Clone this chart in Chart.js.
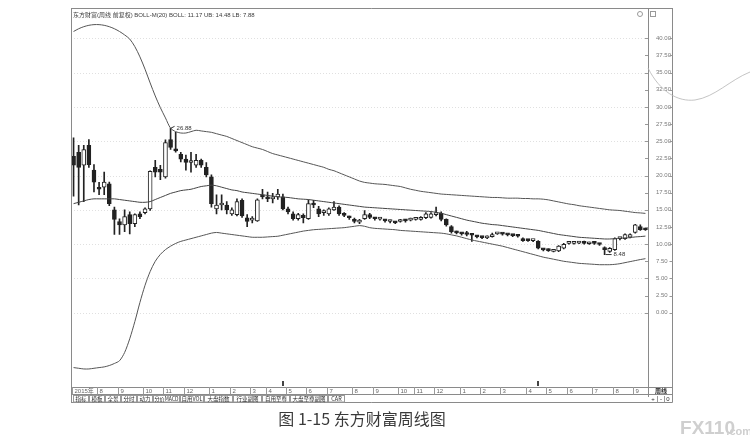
<!DOCTYPE html>
<html>
<head>
<meta charset="utf-8">
<script src="https://cdn.jsdelivr.net/npm/chart.js@4.4.1/dist/chart.umd.min.js"></script>
<style>
  html, body { margin: 0; padding: 0; background: #fff; }
  canvas { display: block; }
</style>
</head>
<body>
<canvas id="kline" width="750" height="445"></canvas>
<script>
// weekly candles (price units)
const openP = [22.8, 23.4, 21.5, 24.4, 20.8, 18.2, 18.3, 18.8, 15.0, 13.3,
  12.8, 14.3, 13.0, 14.4, 14.6, 15.15, 21.2, 20.9, 19.8, 25.25,
  23.8, 23.1, 22.4, 21.9, 21.5, 22.2, 21.2, 19.8, 15.15, 15.7,
  15.7, 14.4, 14.3, 16.4, 13.85, 13.5, 13.4, 17.2, 16.9, 16.6,
  16.9, 16.9, 15.15, 14.4, 13.7, 14.2, 13.7, 15.9, 15.15, 14.6,
  14.4, 15.0, 15.4, 14.3, 13.9, 13.6, 13.2, 13.7, 14.3, 13.75,
  13.65, 13.5, 13.3, 13.2, 13.3, 13.45, 13.5, 13.6, 13.6, 13.85,
  13.9, 14.3, 14.5, 13.6, 12.55, 11.75, 11.6, 11.7, 11.4, 11.15,
  11.0, 10.9, 11.1, 11.5, 11.5, 11.4, 11.3, 11.2, 10.8, 10.55,
  10.5, 10.4, 9.25, 9.2, 8.95, 9.0, 9.4, 10.1, 10.1, 10.15,
  10.4, 10.05, 10.15, 10.0, 9.3, 8.95, 9.2, 10.8, 10.8, 11.0,
  11.7, 12.55, 12.15];
const closeP = [21.5, 21.2, 23.8, 21.6, 19.05, 18.0, 19.05, 15.9, 13.6, 12.8,
  14.0, 13.0, 14.3, 14.0, 15.15, 20.6, 20.5, 20.5, 24.8, 24.1,
  23.6, 22.4, 21.9, 22.0, 22.2, 21.5, 20.1, 15.9, 15.7, 15.8,
  15.0, 15.0, 16.2, 14.1, 13.3, 13.6, 16.45, 16.9, 16.6, 16.7,
  17.3, 15.15, 14.7, 13.7, 14.3, 13.85, 15.9, 15.7, 14.4, 14.7,
  15.15, 15.4, 14.4, 14.2, 13.85, 13.3, 13.4, 14.3, 13.9, 13.7,
  13.75, 13.4, 13.4, 13.1, 13.45, 13.4, 13.6, 13.8, 13.85, 14.4,
  14.4, 14.4, 13.6, 12.8, 11.8, 11.65, 11.5, 11.4, 11.3, 11.05,
  10.95, 11.05, 11.4, 11.55, 11.45, 11.35, 11.25, 11.15, 10.5, 10.5,
  10.55, 9.4, 9.15, 9.05, 9.1, 9.7, 9.96, 10.15, 10.25, 10.3,
  10.1, 10.2, 10.1, 9.95, 9.2, 9.4, 10.8, 10.85, 11.4, 11.4,
  12.8, 12.1, 12.1];
const highP = [25.5, 24.4, 24.4, 25.25, 21.6, 19.0, 20.5, 19.05, 15.4, 13.7,
  15.0, 14.7, 14.4, 14.7, 15.3, 20.7, 22.2, 21.5, 25.2, 26.88,
  26.3, 23.4, 23.0, 23.4, 23.1, 22.4, 21.9, 20.1, 17.2, 17.2,
  16.2, 15.3, 16.6, 16.6, 14.3, 14.0, 16.6, 18.0, 17.6, 17.4,
  18.0, 17.3, 15.4, 14.7, 14.5, 14.4, 16.45, 16.4, 15.5, 15.0,
  15.3, 16.2, 15.6, 14.6, 14.1, 13.8, 13.6, 14.9, 14.5, 13.9,
  13.9, 13.6, 13.5, 13.3, 13.6, 13.6, 13.8, 13.9, 14.0, 14.6,
  14.6, 15.4, 14.7, 13.7, 12.7, 11.9, 11.7, 11.85, 11.5, 11.3,
  11.1, 11.2, 11.6, 11.7, 11.6, 11.5, 11.4, 11.3, 10.9, 10.7,
  10.6, 10.5, 9.35, 9.3, 9.2, 9.8, 10.1, 10.3, 10.35, 10.4,
  10.45, 10.3, 10.25, 10.1, 9.6, 9.5, 10.9, 11.0, 11.5, 11.5,
  12.9, 12.8, 12.3];
const lowP = [17.0, 15.7, 16.2, 21.2, 17.6, 17.2, 17.2, 15.6, 11.4, 11.4,
  11.8, 11.5, 12.55, 13.7, 14.4, 14.9, 19.8, 19.4, 19.6, 23.8,
  23.4, 22.0, 20.8, 20.5, 21.2, 21.2, 19.8, 15.4, 14.4, 15.0,
  14.4, 14.2, 14.1, 13.9, 12.55, 13.1, 13.3, 16.6, 16.2, 16.0,
  16.5, 15.0, 14.4, 13.5, 13.5, 13.1, 13.6, 15.3, 14.0, 14.2,
  14.2, 14.9, 14.2, 14.0, 13.6, 13.1, 13.0, 13.6, 13.7, 13.5,
  13.5, 13.2, 13.1, 13.0, 13.2, 13.2, 13.4, 13.5, 13.5, 13.7,
  13.8, 14.1, 13.4, 12.6, 11.6, 11.5, 11.3, 11.2, 10.4, 10.9,
  10.8, 10.8, 11.0, 11.4, 11.3, 11.2, 11.1, 11.0, 10.4, 10.4,
  10.35, 9.3, 9.0, 8.95, 8.85, 8.9, 9.3, 10.0, 10.0, 10.05,
  10.0, 9.95, 9.95, 9.8, 8.48, 8.8, 9.1, 10.6, 10.7, 10.9,
  11.6, 12.0, 12.0];

// BOLL(20) lines
const bollUp = [41.0, 41.4, 41.7, 41.9, 42.0, 42.0, 41.9, 41.7, 41.4, 41.0,
  40.5, 39.9, 38.8, 37.3, 35.5, 33.5, 31.6, 29.9, 28.4, 26.9,
  26.4, 26.2, 26.2, 26.4, 26.6, 26.5, 26.4, 26.3, 26.1, 25.9,
  25.7, 25.4, 25.1, 24.8, 24.5, 24.2, 24.0, 23.8, 23.5, 23.2,
  23.0, 22.8, 22.6, 22.4, 22.2, 22.0, 21.8, 21.6, 21.4, 21.2,
  20.9, 20.7, 20.4, 20.1, 19.8, 19.5, 19.2, 19.0, 18.9, 18.8,
  18.75, 18.7, 18.6, 18.5, 18.4, 18.2, 18.0, 17.85, 17.7, 17.6,
  17.5, 17.4, 17.3, 17.25, 17.2, 17.15, 17.1, 17.05, 17.0, 16.95,
  16.9, 16.85, 16.8, 16.8, 16.75, 16.7, 16.7, 16.7, 16.65, 16.65,
  16.6, 16.6, 16.55, 16.45, 16.3, 16.15, 16.0, 15.85, 15.75, 15.6,
  15.5, 15.4, 15.3, 15.2, 15.1, 15.0, 14.95, 14.9, 14.8, 14.7,
  14.6, 14.55, 14.48];
const bollMid = [15.9, 16.1, 16.3, 16.5, 16.6, 16.6, 16.6, 16.6, 16.6, 16.5,
  16.4, 16.3, 16.2, 16.1, 16.1, 16.2, 16.5, 16.8, 17.1, 17.4,
  17.6, 17.8, 17.9, 18.0, 18.2, 18.4, 18.5, 18.6, 18.5, 18.3,
  18.1, 17.9, 17.8, 17.6, 17.5, 17.4, 17.3, 17.2, 17.1, 17.0,
  16.9, 16.85, 16.8, 16.7, 16.6, 16.55, 16.5, 16.4, 16.3, 16.2,
  16.1, 16.0, 15.9, 15.8, 15.7, 15.6, 15.5, 15.4, 15.35, 15.3,
  15.25, 15.2, 15.15, 15.1, 15.05, 15.0, 14.95, 14.9, 14.85, 14.8,
  14.75, 14.65, 14.5, 14.3, 14.1, 13.9, 13.7, 13.5, 13.35, 13.2,
  13.05, 12.95, 12.85, 12.8, 12.7, 12.6, 12.5, 12.4, 12.3, 12.2,
  12.1, 12.0, 11.85, 11.7, 11.55, 11.4, 11.3, 11.2, 11.1, 11.0,
  10.95, 10.9, 10.85, 10.8, 10.75, 10.75, 10.8, 10.85, 10.9, 10.95,
  11.05, 11.1, 11.17];
const bollLow = [-8.0, -8.1, -8.2, -8.2, -8.1, -8.0, -7.9, -7.7, -7.4, -7.0,
  -5.8, -3.8, -1.3, 1.5, 4.0, 6.0, 7.5, 8.5, 9.2, 9.7,
  10.1, 10.4, 10.6, 10.8, 11.0, 11.2, 11.4, 11.6, 11.7, 11.6,
  11.5, 11.4, 11.3, 11.2, 11.1, 11.0, 11.0, 11.0, 11.05, 11.1,
  11.15, 11.3, 11.45, 11.6, 11.75, 11.9, 12.0, 12.1, 12.15, 12.2,
  12.25, 12.3, 12.35, 12.4, 12.5, 12.6, 12.7, 12.6, 12.4, 12.3,
  12.25, 12.2, 12.15, 12.1, 12.0, 11.95, 11.9, 11.85, 11.8, 11.75,
  11.7, 11.65, 11.6, 11.5, 11.35, 11.2, 11.0, 10.8, 10.6, 10.45,
  10.3, 10.15, 10.0, 9.85, 9.7, 9.5, 9.3, 9.1, 8.9, 8.7,
  8.5, 8.3, 8.1, 7.95, 7.8, 7.65, 7.5, 7.4, 7.3, 7.2,
  7.15, 7.1, 7.05, 7.0, 7.0, 7.0, 7.05, 7.15, 7.3, 7.45,
  7.6, 7.75, 7.88];

// axis ticks and labels
const yTicks = [0, 2.5, 5, 7.5, 10, 12.5, 15, 17.5, 20, 22.5, 25, 27.5, 30, 32.5, 35, 37.5, 40];
const monthIdx = [0, 5, 9, 14, 18, 22, 27, 31, 35, 38, 42, 46, 50, 55, 59, 64, 67, 71, 76, 80, 84, 89, 93, 97, 102, 106, 110];
const monthLabels = ['2015年', '8', '9', '10', '11', '12', '1', '2', '3', '4', '5', '6', '7', '8', '9', '10', '11', '12', '1', '2', '3', '4', '5', '6', '7', '8', '9'];
const exRightsIdx = [41, 91];
const highMark = { idx: 19, text: '26.88' };
const lowMark = { idx: 104, text: '8.48' };
const titleText = '东方财富(周线 前复权) BOLL-M(20) BOLL: 11.17 UB: 14.48 LB: 7.88';
const tabNames = ['指标', '模板', '全景', '分时', '动力', '分价MACD', '自用VOL', '大盘指数', '行业副图', '自用至尊', '大盘至尊副图', 'CAR'];
const caption = '图 1-15 东方财富周线图';

const weeks = openP.map((_, i) => i);
const ink = '#222';

const decor = {
  id: 'decor',
  beforeDatasetsDraw(chart) {
    const { ctx, chartArea: a, scales: { y } } = chart;
    ctx.save();
    ctx.strokeStyle = '#e0e0e0';
    ctx.lineWidth = 1;
    ctx.setLineDash([1, 2]);
    yTicks.filter(v => v % 5 === 0).forEach(v => {
      const py = Math.round(y.getPixelForValue(v)) + 0.5;
      ctx.beginPath(); ctx.moveTo(a.left, py); ctx.lineTo(a.right, py); ctx.stroke();
    });
    ctx.restore();
  },
  afterDraw(chart) {
    const { ctx, chartArea: a, scales: { x, y } } = chart;
    const R = 672.5, stripB = 394.5, tabB = 402.5;
    ctx.save();
    ctx.strokeStyle = '#8a8a8a';
    ctx.lineWidth = 1;
    const line = (x1, y1, x2, y2) => { ctx.beginPath(); ctx.moveTo(x1, y1); ctx.lineTo(x2, y2); ctx.stroke(); };
    // frame
    line(a.left + 0.5, 8, a.left + 0.5, tabB);
    line(a.left, 8.5, R, 8.5);
    line(a.right + 0.5, 8, a.right + 0.5, 397);
    line(R, 8, R, tabB);
    line(a.left, a.bottom + 0.5, R, a.bottom + 0.5);
    line(a.left, stripB, R, stripB);
    line(a.left, tabB, R, tabB);
    // y tick marks
    ctx.strokeStyle = '#999';
    yTicks.forEach(v => {
      const py = Math.round(y.getPixelForValue(v)) + 0.5;
      line(a.right - 3, py, a.right, py);
      line(R - 3, py, R, py);
    });
    // x strip: month separators and labels
    ctx.fillStyle = '#666';
    ctx.font = '6px "Liberation Sans", "Noto Sans CJK SC"';
    ctx.textBaseline = 'middle';
    ctx.textAlign = 'left';
    monthIdx.forEach((idx, k) => {
      const px = Math.round(x.getPixelForValue(idx) - 2) + 0.5;
      ctx.strokeStyle = '#999';
      line(px, a.bottom, px, stripB);
      ctx.fillText(monthLabels[k], px + 2, 391);
    });
    // ex-rights markers above the strip
    ctx.fillStyle = '#444';
    exRightsIdx.forEach(idx => {
      const px = Math.round(x.getPixelForValue(idx));
      ctx.fillRect(px - 1, a.bottom - 6, 2, 5);
    });
    // title
    ctx.fillStyle = '#3c3c3c';
    ctx.font = '6px "Liberation Sans", "Noto Sans CJK SC"';
    ctx.fillText(titleText, 73, 15);
    // small icons top right
    ctx.strokeStyle = '#999';
    ctx.beginPath(); ctx.arc(640, 14, 2.5, 0, Math.PI * 2); ctx.stroke();
    ctx.strokeRect(650.5, 11.5, 5, 5);
    // high / low marks
    ctx.strokeStyle = '#333';
    ctx.fillStyle = '#333';
    ctx.font = '6px "Liberation Sans"';
    const hx = x.getPixelForValue(highMark.idx), hy = y.getPixelForValue(highP[highMark.idx]);
    line(hx, hy, hx + 4, hy - 2);
    ctx.fillText(highMark.text, hx + 6, hy);
    const lx = x.getPixelForValue(lowMark.idx), ly = y.getPixelForValue(lowP[lowMark.idx]);
    line(lx + 1, ly, lx + 7, ly);
    ctx.fillText(lowMark.text, lx + 9, ly);
    // tabs
    const tabEdges = [73, 89, 105, 121, 137, 153, 180, 204, 233, 262, 290, 328, 345];
    ctx.font = '5.5px "Noto Sans CJK SC", "Liberation Sans"';
    ctx.textAlign = 'center';
    ctx.strokeStyle = '#999';
    tabNames.forEach((t, k) => {
      const x1 = tabEdges[k], x2 = tabEdges[k + 1];
      ctx.strokeRect(x1 + 0.5, stripB + 1, x2 - x1 - 1, 6.5);
      ctx.fillStyle = '#2a2a2a';
      ctx.fillText(t, (x1 + x2) / 2, 398.8, x2 - x1 - 3);
    });
    // bottom-right panel
    ctx.font = 'bold 6px "Noto Sans CJK SC"';
    ctx.fillText('周线', 661, 390.8);
    ctx.font = '6px "Liberation Sans"';
    ctx.fillText('+', 653, 399);
    ctx.fillText('-', 661, 399);
    ctx.fillText('0', 668, 399);
    line(657.5, 396, 657.5, tabB);
    line(664.5, 396, 664.5, tabB);
    // caption
    ctx.fillStyle = '#3a3a3a';
    ctx.font = '16px "Noto Sans CJK SC"';
    ctx.fillText(caption, 362, 419);
    // watermark
    ctx.fillStyle = '#cfcfcf';
    ctx.font = 'bold 19px "Liberation Sans"';
    ctx.textAlign = 'right';
    ctx.fillText('FX110', 735, 429);
    ctx.font = 'bold 11px "Liberation Sans"';
    ctx.fillText('.com', 752, 432);
    // pencil stroke at right
    ctx.strokeStyle = '#b5b5b5';
    ctx.lineWidth = 0.8;
    ctx.beginPath();
    ctx.moveTo(648, 68);
    ctx.bezierCurveTo(660, 92, 678, 102, 695, 100);
    ctx.bezierCurveTo(715, 97, 730, 80, 750, 72);
    ctx.stroke();
    ctx.restore();
  }
};

new Chart(document.getElementById('kline'), {
  data: {
    labels: weeks,
    datasets: [
      { type: 'line', data: bollUp, borderColor: '#555', borderWidth: 1, pointRadius: 0, tension: 0.3, order: 1 },
      { type: 'line', data: bollMid, borderColor: '#444', borderWidth: 1, pointRadius: 0, tension: 0.3, order: 1 },
      { type: 'line', data: bollLow, borderColor: '#555', borderWidth: 1, pointRadius: 0, tension: 0.3, order: 1 },
      {
        type: 'bar', data: weeks.map(i => [openP[i], closeP[i]]),
        backgroundColor: weeks.map(i => closeP[i] >= openP[i] ? '#fff' : ink),
        borderColor: ink, borderWidth: 1, borderSkipped: false,
        barThickness: 4, minBarLength: 2, grouped: false, order: 2
      },
      {
        type: 'bar', data: weeks.map(i => [lowP[i], highP[i]]),
        backgroundColor: ink, barThickness: 1, grouped: false, order: 3
      }
    ]
  },
  options: {
    responsive: false,
    animation: false,
    layout: { padding: { left: 71, top: 8, right: 77, bottom: 58 } },
    plugins: { legend: { display: false }, tooltip: { enabled: false } },
    scales: {
      x: {
        type: 'category', offset: true,
        grid: { display: false, drawTicks: false },
        ticks: { display: false },
        border: { display: false },
        afterFit: s => { s.height = 0; }
      },
      y: {
        position: 'right', min: -10.83, max: 43.9,
        afterBuildTicks: s => { s.ticks = yTicks.map(v => ({ value: v })); },
        grid: { display: false, drawTicks: false },
        border: { display: false },
        ticks: {
          padding: 8, color: '#7a7a7a',
          font: { family: 'Liberation Sans', size: 6 },
          callback: v => Number(v).toFixed(2)
        },
        afterFit: s => { s.width = 25; }
      }
    }
  },
  plugins: [decor]
});
</script>
</body>
</html>
